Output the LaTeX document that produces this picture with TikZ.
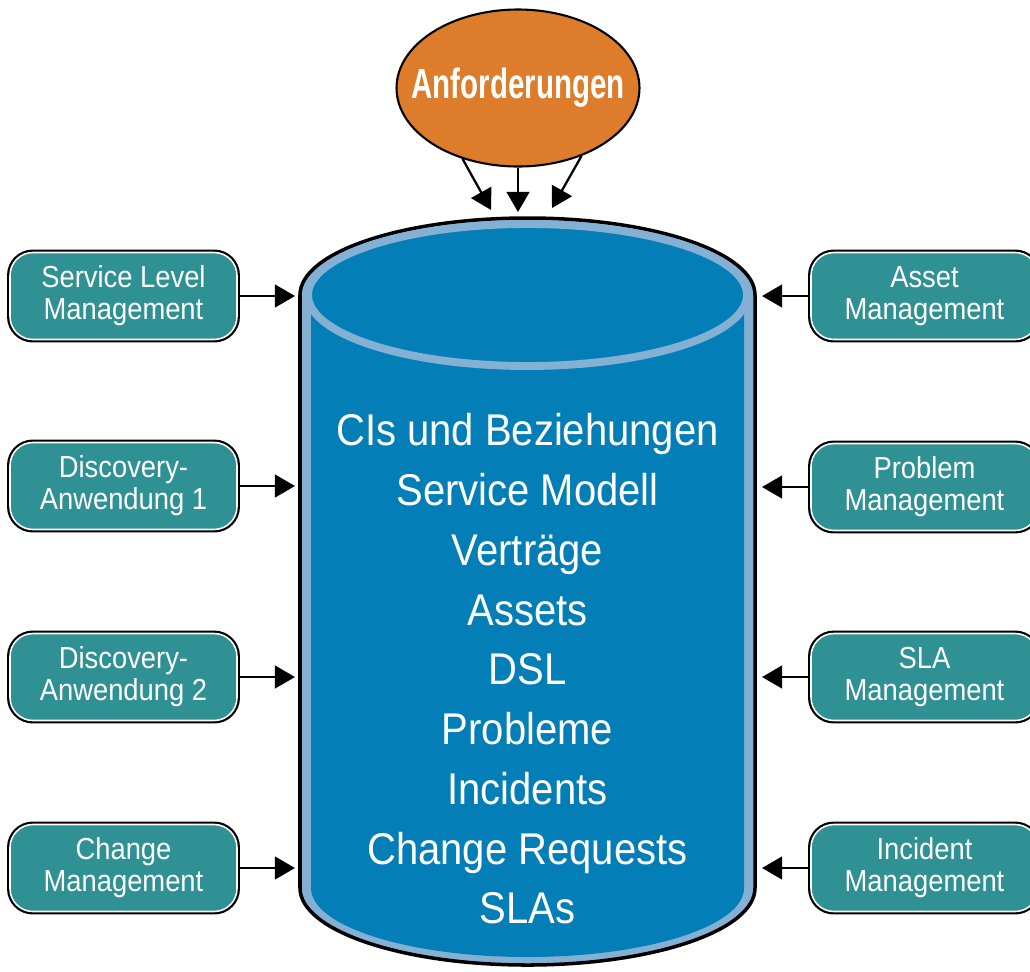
\documentclass[tikz,border=0pt]{standalone}
\usepackage{fontspec}
\setmainfont[FakeStretch=0.9]{Liberation Sans}
\newfontfamily\headfont[FakeStretch=0.7]{Liberation Sans}
\usepackage{tikz}
\usetikzlibrary{shapes.geometric}
\usetikzlibrary{arrows.meta}
\definecolor{store-blue}{RGB}{4,126,182}
\definecolor{rim-blue}{RGB}{132,176,212}
\definecolor{box-teal}{RGB}{47,145,148}
\definecolor{req-orange}{RGB}{221,125,43}
\tikzstyle{pixel}=[x=0.02cm, y=-0.02cm]
\tikzstyle{process}=[rectangle, rounded corners=13pt, fill=box-teal, draw=white, line width=0.9pt, preaction={draw=black, line width=3.4pt}, minimum width=4.54cm, minimum height=1.74cm, inner sep=0pt, align=center, text=white, font=\fontsize{17.3}{18.1}\selectfont]
\tikzstyle{request}=[ellipse, fill=req-orange, draw=black, line width=1.2pt, minimum width=4.86cm, minimum height=3.14cm, inner sep=0pt, text=white, font=\headfont\bfseries\fontsize{24}{26}\selectfont]
\tikzstyle{contents}=[align=center, text=white, inner sep=0pt, font=\fontsize{25.3}{34}\selectfont]
\tikzstyle{feed}=[-{Triangle[width=13pt,length=11.5pt]}, line width=1.3pt]

\begin{document}
\begin{tikzpicture}[pixel]
	\clip (0,0) rectangle (1030,971);
	\draw[fill=rim-blue, line width=2pt] (300,295) arc[start angle=180, end angle=360, x radius=227.5, y radius=77] -- (755,888) arc[start angle=0, end angle=180, x radius=227.5, y radius=77] -- cycle;
	\fill[store-blue] (311,295) arc[start angle=180, end angle=360, x radius=216.5, y radius=68] -- (744,888) arc[start angle=0, end angle=180, x radius=216.5, y radius=69] -- cycle;
	\draw[rim-blue, line width=4.5pt] (527.5,295) ellipse [x radius=219.5, y radius=71];
	\node[contents] (store) at (527.5,669) {CIs und Beziehungen\\Service Modell\\Vertr\"age\\Assets\\DSL\\Probleme\\Incidents\\Change Requests\\SLAs};

	\node[request] (req) at (518,88) {\makebox[0pt]{Anforderungen}};
	\coordinate (top-l) at (491,210);
	\coordinate (top-m) at (518,212);
	\coordinate (top-r) at (552,208);
	\draw[feed] (req.232) -- (top-l);
	\draw[feed] (req.south) -- (top-m);
	\draw[feed] (req.313) -- (top-r);

	\node[process] (slm) at (123.5,296) {Service Level\\Management};
	\node[process] (disc1) at (123.5,486) {Discovery-\\Anwendung 1};
	\node[process] (disc2) at (123.5,677) {Discovery-\\Anwendung 2};
	\node[process] (chg) at (123.5,868) {Change\\Management};
	\node[process] (asset) at (924.5,296) {Asset\\Management};
	\node[process] (prob) at (924.5,487) {Problem\\Management};
	\node[process] (sla) at (924.5,677) {SLA\\Management};
	\node[process] (inc) at (924.5,868) {Incident\\Management};

	\coordinate (in-slm) at (295,296);
	\coordinate (in-disc1) at (295,486);
	\coordinate (in-disc2) at (295,677);
	\coordinate (in-chg) at (295,868);
	\coordinate (in-asset) at (762,296);
	\coordinate (in-prob) at (762,487);
	\coordinate (in-sla) at (762,677);
	\coordinate (in-inc) at (762,868);
	\draw[feed] (slm) -- (in-slm);
	\draw[feed] (disc1) -- (in-disc1);
	\draw[feed] (disc2) -- (in-disc2);
	\draw[feed] (chg) -- (in-chg);
	\draw[feed] (asset) -- (in-asset);
	\draw[feed] (prob) -- (in-prob);
	\draw[feed] (sla) -- (in-sla);
	\draw[feed] (inc) -- (in-inc);
\end{tikzpicture}
\end{document}
